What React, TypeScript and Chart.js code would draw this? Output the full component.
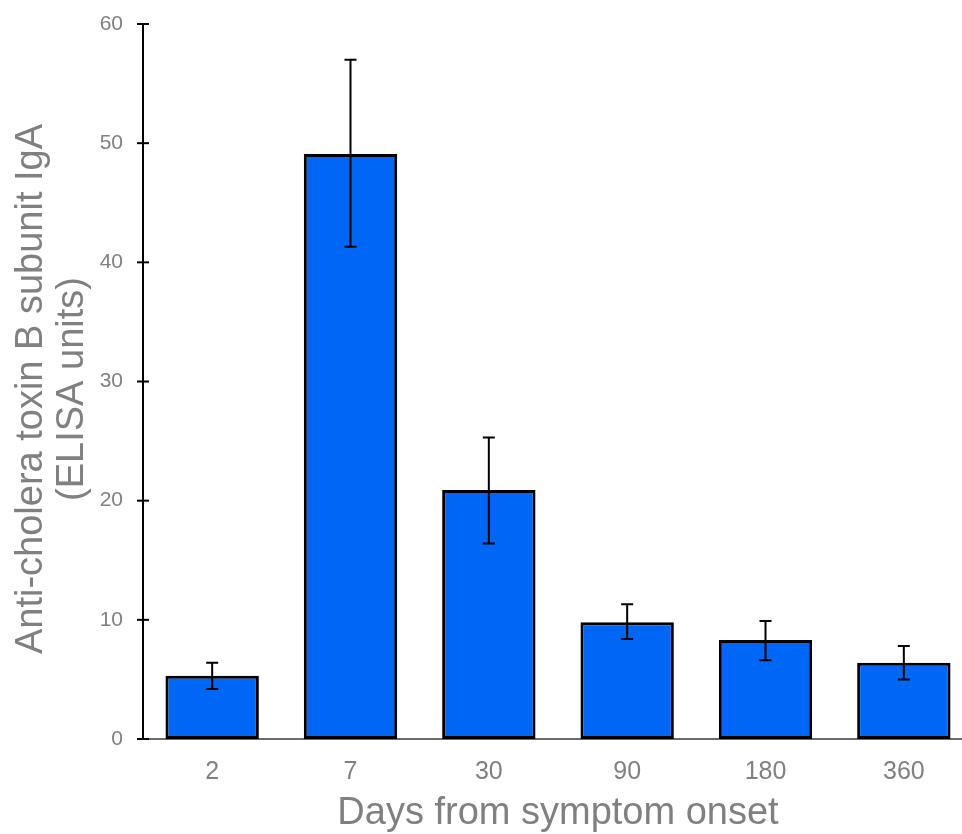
import React, { useEffect, useRef } from "react";
import { Chart, registerables } from "chart.js";

Chart.register(...registerables);

const categories = ["2", "7", "30", "90", "180", "360"];
const means = [5.3, 49.1, 20.9, 9.8, 8.3, 6.4];
const errUpper = [6.4, 57.0, 25.3, 11.3, 9.9, 7.8];
const errLower = [4.2, 41.3, 16.4, 8.4, 6.6, 5.0];
const yTicks = [0, 10, 20, 30, 40, 50, 60];
const yTitle = ["Anti-cholera toxin B subunit IgA", "(ELISA units)"];
const xTitle = "Days from symptom onset";

const FONT = "'Liberation Sans', Arial, Helvetica, sans-serif";
const GRAY = "#808080";

const axesPlugin = {
  id: "customAxes",
  beforeDatasetsDraw(chart: any) {
    const { ctx } = chart;
    const y = chart.scales.y;
    const x = chart.scales.x;
    const y0 = y.getPixelForValue(0);
    ctx.save();
    ctx.strokeStyle = "#3a3a3a";
    ctx.lineWidth = 1.5;
    ctx.beginPath();
    ctx.moveTo(x.left - 6, y0);
    ctx.lineTo(962, y0);
    ctx.stroke();
    ctx.restore();

    // y-axis title (two lines, rotated)
    ctx.save();
    ctx.fillStyle = GRAY;
    ctx.font = `38px ${FONT}`;
    ctx.textAlign = "center";
    ctx.textBaseline = "alphabetic";
    ctx.translate(0, 389);
    ctx.rotate(-Math.PI / 2);
    ctx.fillText(yTitle[0], 0, 42);
    ctx.fillText(yTitle[1], 0, 83);
    ctx.restore();
  },
  afterDatasetsDraw(chart: any) {
    const { ctx } = chart;
    const y = chart.scales.y;
    const x = chart.scales.x;
    const ax = x.left;
    ctx.save();
    ctx.strokeStyle = "#000";
    ctx.lineWidth = 2;
    ctx.beginPath();
    ctx.moveTo(ax, y.getPixelForValue(yTicks[yTicks.length - 1]));
    ctx.lineTo(ax, y.getPixelForValue(0));
    ctx.stroke();
    yTicks.forEach((t) => {
      const py = y.getPixelForValue(t);
      ctx.beginPath();
      ctx.moveTo(ax - 6, py);
      ctx.lineTo(ax + 6, py);
      ctx.stroke();
    });
    // error bars
    const meta = chart.getDatasetMeta(0);
    meta.data.forEach((bar: any, i: number) => {
      const cx = bar.x;
      const top = y.getPixelForValue(errUpper[i]);
      const bot = y.getPixelForValue(errLower[i]);
      ctx.beginPath();
      ctx.moveTo(cx, top);
      ctx.lineTo(cx, bot);
      ctx.moveTo(cx - 6, top);
      ctx.lineTo(cx + 6, top);
      ctx.moveTo(cx - 6, bot);
      ctx.lineTo(cx + 6, bot);
      ctx.stroke();
    });
    ctx.restore();
  },
};

export default function App() {
  const ref = useRef<HTMLCanvasElement | null>(null);
  useEffect(() => {
    if (!ref.current) return;
    const chart = new Chart(ref.current, {
      type: "bar",
      data: {
        labels: categories,
        datasets: [
          {
            data: means,
            backgroundColor: "#0066f5",
            borderColor: "#000000",
            borderWidth: 3,
            borderSkipped: false,
            barPercentage: 0.675,
            categoryPercentage: 1,
          },
        ],
      },
      options: {
        animation: false,
        responsive: false,
        devicePixelRatio: 1,
        layout: { padding: { top: 24, right: 7, left: 0, bottom: 0 } },
        plugins: { legend: { display: false }, tooltip: { enabled: false } },
        scales: {
          x: {
            grid: { display: false, drawTicks: false },
            border: { display: false },
            ticks: { color: GRAY, font: { family: FONT, size: 25 }, padding: 18 },
            title: {
              display: true,
              text: xTitle,
              color: GRAY,
              font: { family: FONT, size: 38, lineHeight: 1.1 },
              padding: 0,
            },
            afterFit: (s: any) => {
              s.height = 95;
              s.paddingLeft = 0;
              s.paddingRight = 0;
            },
          },
          y: {
            min: 0,
            max: 60,
            grid: { display: false, drawTicks: false },
            border: { display: false },
            ticks: { stepSize: 10, color: GRAY, font: { family: FONT, size: 21 }, padding: 20 },
            afterFit: (s: any) => {
              s.width = 143;
              s.paddingTop = 0;
              s.paddingBottom = 0;
            },
          },
        },
      },
      plugins: [axesPlugin],
    });
    return () => chart.destroy();
  }, []);
  return (
    <div
      style={{
        position: "fixed",
        left: 0,
        top: 0,
        width: 962,
        height: 834,
        overflow: "hidden",
        background: "#fff",
      }}
    >
      <canvas ref={ref} width={980} height={834} style={{ display: "block" }} />
    </div>
  );
}
